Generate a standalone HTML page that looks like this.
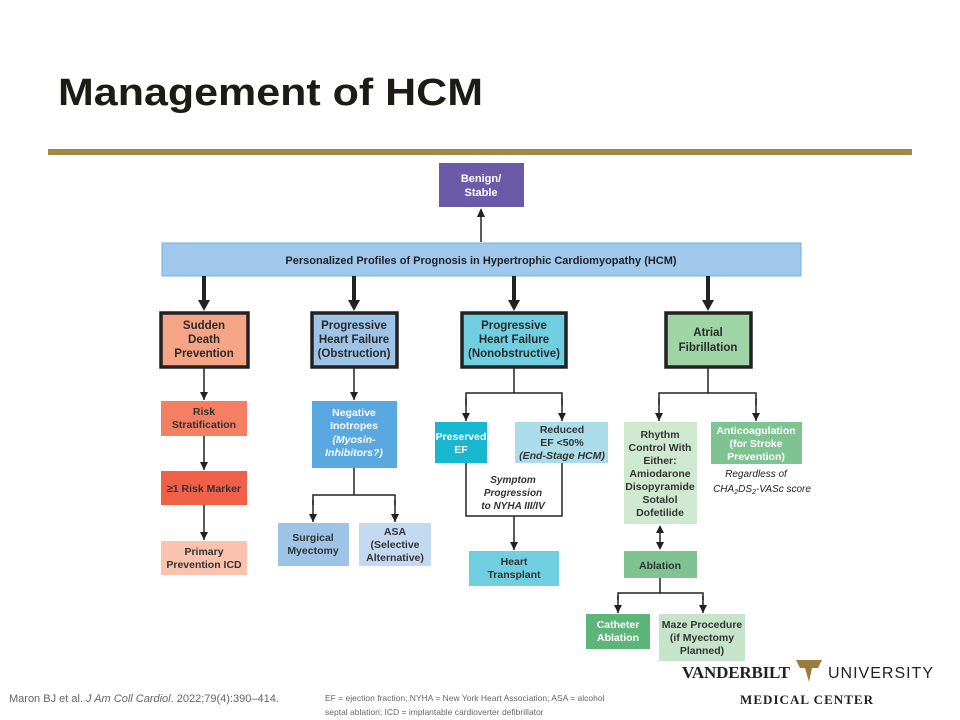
<!DOCTYPE html>
<html><head><meta charset="utf-8"><style>
body{margin:0;background:#fff;}
svg{display:block;font-family:"Liberation Sans",sans-serif;}
</style></head><body>
<svg width="960" height="720" viewBox="0 0 960 720" xmlns="http://www.w3.org/2000/svg">
<defs>
<marker id="a" markerWidth="8" markerHeight="8" refX="8" refY="4" orient="auto" markerUnits="userSpaceOnUse"><path d="M0,0 L8,4 L0,8 z" fill="#222"/></marker>
</defs>
<text x="58" y="105" font-size="38" font-weight="bold" fill="#1c1c14" textLength="425" lengthAdjust="spacingAndGlyphs">Management of HCM</text>
<rect x="48" y="149" width="864" height="6" fill="#a48848"/>

<g font-size="11" font-weight="bold" text-anchor="middle">
<rect x="439" y="163" width="85" height="44" fill="#6a5aa8"/>
<text x="481" y="182" fill="#fff">Benign/</text><text x="481" y="196" fill="#fff">Stable</text>
<line x1="481" y1="242" x2="481" y2="216" stroke="#222" stroke-width="1.5"/>
<path d="M477,217 L485,217 L481,208 z" fill="#222"/>
<rect x="162" y="243" width="639" height="33" fill="#9fc8ec" stroke="#7aaed8"/>
<text x="481" y="264" fill="#222">Personalized Profiles of Prognosis in Hypertrophic Cardiomyopathy (HCM)</text>
<g stroke="#222" stroke-width="4">
<line x1="204" y1="276" x2="204" y2="302"/><line x1="354" y1="276" x2="354" y2="302"/>
<line x1="514" y1="276" x2="514" y2="302"/><line x1="708" y1="276" x2="708" y2="302"/>
</g>
<g fill="#222">
<path d="M198,300 L210,300 L204,311 z"/><path d="M348,300 L360,300 L354,311 z"/>
<path d="M508,300 L520,300 L514,311 z"/><path d="M702,300 L714,300 L708,311 z"/>
</g>
<g stroke="#222" stroke-width="3.5">
<rect x="161" y="313" width="87" height="54" fill="#f5a486"/>
<rect x="312" y="313" width="85" height="54" fill="#9dc3e6"/>
<rect x="462" y="313" width="104" height="54" fill="#6fcfe0"/>
<rect x="666" y="313" width="85" height="54" fill="#9fd4a4"/>
</g>
<g fill="#2a2a2a" font-size="11.5">
<text x="204" y="329">Sudden</text><text x="204" y="343">Death</text><text x="204" y="357">Prevention</text>
<text x="354" y="329">Progressive</text><text x="354" y="343">Heart Failure</text><text x="354" y="357">(Obstruction)</text>
<text x="514" y="329">Progressive</text><text x="514" y="343">Heart Failure</text><text x="514" y="357">(Nonobstructive)</text>
<text x="708" y="336">Atrial</text><text x="708" y="351">Fibrillation</text>
</g>

<g stroke="#222" stroke-width="1.5" fill="none">
<line x1="204" y1="367" x2="204" y2="400" marker-end="url(#a)"/>
<line x1="204" y1="436" x2="204" y2="470" marker-end="url(#a)"/>
<line x1="204" y1="505" x2="204" y2="540" marker-end="url(#a)"/>
<line x1="354" y1="367" x2="354" y2="400" marker-end="url(#a)"/>
<polyline points="354,468 354,495"/>
<polyline points="313,505 313,495 395,495 395,505"/>
<line x1="313" y1="500" x2="313" y2="522" marker-end="url(#a)"/>
<line x1="395" y1="500" x2="395" y2="522" marker-end="url(#a)"/>
<polyline points="514,367 514,393"/>
<polyline points="466,405 466,393 562,393 562,405"/>
<line x1="466" y1="398" x2="466" y2="421" marker-end="url(#a)"/>
<line x1="562" y1="398" x2="562" y2="421" marker-end="url(#a)"/>
<polyline points="466,463 466,516 562,516 562,463"/>
<line x1="514" y1="516" x2="514" y2="550" marker-end="url(#a)"/>
<polyline points="708,367 708,393"/>
<polyline points="659,405 659,393 756,393 756,405"/>
<line x1="659" y1="398" x2="659" y2="421" marker-end="url(#a)"/>
<line x1="756" y1="398" x2="756" y2="421" marker-end="url(#a)"/>
<line x1="660" y1="532" x2="660" y2="543"/>
<polyline points="660,578 660,593"/>
<polyline points="618,600 618,593 703,593 703,600"/>
<line x1="618" y1="596" x2="618" y2="613" marker-end="url(#a)"/>
<line x1="703" y1="596" x2="703" y2="613" marker-end="url(#a)"/>
</g>
<path d="M656,533 L664,533 L660,525 z" fill="#222"/>
<path d="M656,542 L664,542 L660,550 z" fill="#222"/>

<rect x="161" y="401" width="86" height="35" fill="#f47f62"/>
<text x="204" y="415" fill="#333" font-size="10.5">Risk</text><text x="204" y="428" fill="#333" font-size="10.5">Stratification</text>
<rect x="161" y="471" width="86" height="34" fill="#f05f48"/>
<text x="204" y="492" fill="#333" font-size="10.5">≥1 Risk Marker</text>
<rect x="161" y="541" width="86" height="34" fill="#fbc3ad"/>
<text x="204" y="555" fill="#333" font-size="10.5">Primary</text><text x="204" y="568" fill="#333" font-size="10.5">Prevention ICD</text>

<rect x="312" y="401" width="85" height="67" fill="#5aa8e0"/>
<g fill="#fff" font-size="10.5"><text x="354" y="416">Negative</text><text x="354" y="429">Inotropes</text>
<text x="354" y="443" font-style="italic">(Myosin-</text><text x="354" y="456" font-style="italic">Inhibitors?)</text></g>
<rect x="278" y="523" width="71" height="43" fill="#9dc3e6"/>
<text x="313" y="541" fill="#333" font-size="10.5">Surgical</text><text x="313" y="554" fill="#333" font-size="10.5">Myectomy</text>
<rect x="359" y="523" width="72" height="43" fill="#c2d9ef"/>
<g fill="#333" font-size="10.5"><text x="395" y="535">ASA</text><text x="395" y="548">(Selective</text><text x="395" y="561">Alternative)</text></g>

<rect x="435" y="422" width="52" height="41" fill="#19b6cf"/>
<text x="461" y="440" fill="#fff" font-size="10.5">Preserved</text><text x="461" y="453" fill="#fff" font-size="10.5">EF</text>
<rect x="515" y="422" width="93" height="41" fill="#aadcea"/>
<g fill="#333" font-size="10.5"><text x="562" y="433">Reduced</text><text x="562" y="446">EF &lt;50%</text><text x="562" y="459" font-style="italic">(End-Stage HCM)</text></g>
<g fill="#333" font-size="10" font-style="italic"><text x="513" y="483">Symptom</text><text x="513" y="496">Progression</text><text x="513" y="509">to NYHA III/IV</text></g>
<rect x="469" y="551" width="90" height="35" fill="#6fcfe0"/>
<text x="514" y="565" fill="#333" font-size="10.5">Heart</text><text x="514" y="578" fill="#333" font-size="10.5">Transplant</text>

<rect x="624" y="422" width="73" height="102" fill="#cfe8d0"/>
<g fill="#333" font-size="10.5"><text x="660" y="438">Rhythm</text><text x="660" y="451">Control With</text><text x="660" y="464">Either:</text><text x="660" y="477">Amiodarone</text><text x="660" y="490">Disopyramide</text><text x="660" y="503">Sotalol</text><text x="660" y="516">Dofetilide</text></g>
<rect x="711" y="422" width="91" height="42" fill="#7fc393"/>
<g fill="#fff" font-size="10.5"><text x="756" y="434">Anticoagulation</text><text x="756" y="447">(for Stroke</text><text x="756" y="460">Prevention)</text></g>
<g fill="#222" font-size="10" font-style="italic" font-weight="normal"><text x="756" y="477">Regardless of</text><text x="762" y="492">CHA<tspan font-size="7" dy="2">2</tspan><tspan dy="-2">DS</tspan><tspan font-size="7" dy="2">2</tspan><tspan dy="-2">-VASc score</tspan></text></g>
<rect x="624" y="551" width="73" height="27" fill="#7fc393"/>
<text x="660" y="569" fill="#333" font-size="10.5">Ablation</text>
<rect x="586" y="614" width="64" height="35" fill="#5db57a"/>
<text x="618" y="628" fill="#fff" font-size="10.5">Catheter</text><text x="618" y="641" fill="#fff" font-size="10.5">Ablation</text>
<rect x="659" y="614" width="86" height="47" fill="#c6e4c9"/>
<g fill="#333" font-size="10.5"><text x="702" y="628">Maze Procedure</text><text x="702" y="641">(if Myectomy</text><text x="702" y="654">Planned)</text></g>
</g>

<text x="9" y="702" font-size="11" fill="#666">Maron BJ et al. <tspan font-style="italic">J Am Coll Cardiol</tspan>. 2022;79(4):390–414.</text>
<text x="325" y="701" font-size="8.5" fill="#666">EF = ejection fraction; NYHA = New York Heart Association; ASA = alcohol</text>
<text x="325" y="715" font-size="8.5" fill="#666">septal ablation; ICD = implantable cardioverter defibrillator</text>
<text x="682" y="678" font-family="Liberation Serif,serif" font-size="17" font-weight="bold" fill="#222" textLength="108">VANDERBILT</text>
<path d="M796,660 L822,660 L818,668 L812,668 L809,682 L805,668 L800,668 z" fill="#9a7c3c"/>
<text x="828" y="678" font-size="16" fill="#222" textLength="107" letter-spacing="2">UNIVERSITY</text>
<text x="740" y="704" font-family="Liberation Serif,serif" font-size="13" font-weight="bold" fill="#222" textLength="133">MEDICAL CENTER</text>
</svg>
</body></html>
